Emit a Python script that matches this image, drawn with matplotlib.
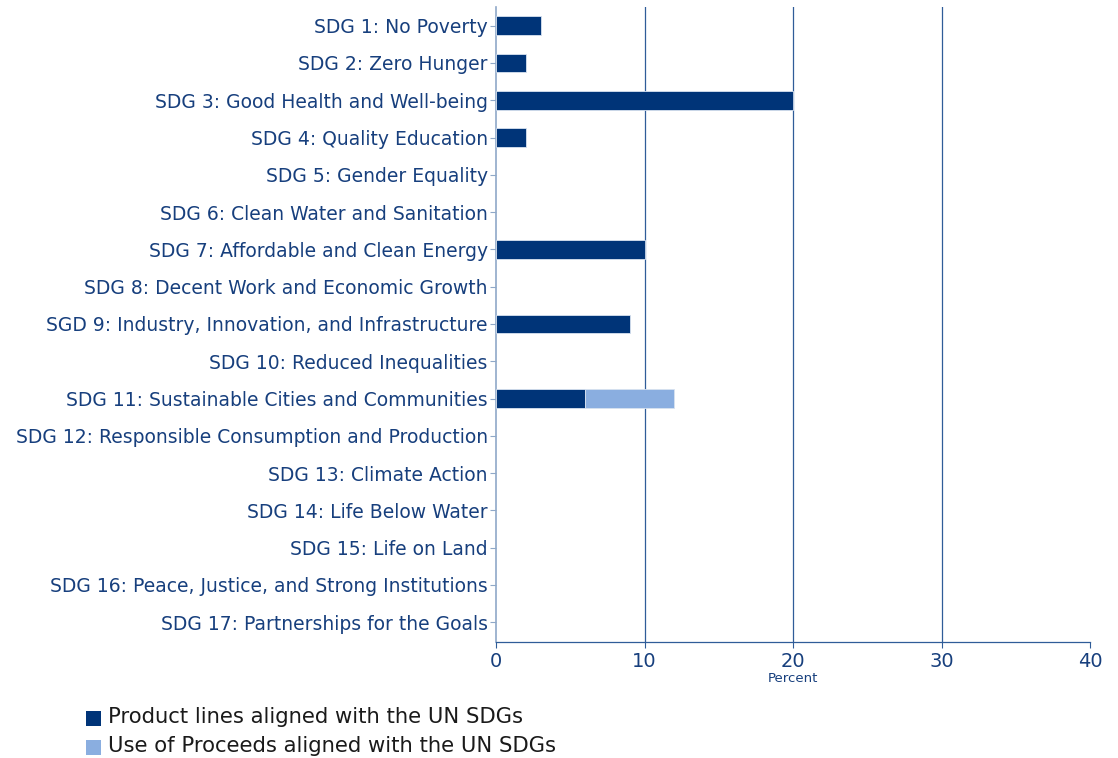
import matplotlib
matplotlib.use("Agg")
import matplotlib.pyplot as plt
from matplotlib.patches import Rectangle

categories = [
    "SDG 1: No Poverty",
    "SDG 2: Zero Hunger",
    "SDG 3: Good Health and Well-being",
    "SDG 4: Quality Education",
    "SDG 5: Gender Equality",
    "SDG 6: Clean Water and Sanitation",
    "SDG 7: Affordable and Clean Energy",
    "SDG 8: Decent Work and Economic Growth",
    "SGD 9: Industry, Innovation, and Infrastructure",
    "SDG 10: Reduced Inequalities",
    "SDG 11: Sustainable Cities and Communities",
    "SDG 12: Responsible Consumption and Production",
    "SDG 13: Climate Action",
    "SDG 14: Life Below Water",
    "SDG 15: Life on Land",
    "SDG 16: Peace, Justice, and Strong Institutions",
    "SDG 17: Partnerships for the Goals",
]
product_lines = [3, 2, 20, 2, 0, 0, 10, 0, 9, 0, 6, 0, 0, 0, 0, 0, 0]
use_of_proceeds = [0, 0, 0, 0, 0, 0, 0, 0, 0, 0, 6, 0, 0, 0, 0, 0, 0]
series_names = ["Product lines aligned with the UN SDGs",
                "Use of Proceeds aligned with the UN SDGs"]
x_ticks = [0, 10, 20, 30, 40]

DARK = "#003478"
LIGHT = "#8aaee0"
TEXT = "#173f7d"
GRID = "#2f5c98"

fig = plt.figure(figsize=(11.18, 7.58), dpi=100)
W, H = 1118, 758
ax = fig.add_axes([496 / W, 1 - 642 / H, (1090 - 496) / W, (642 - 7) / H])

y = list(range(len(categories)))
# draw only non-zero segments
for i in y:
    if product_lines[i] > 0:
        ax.barh(i, product_lines[i], height=0.5, color=DARK, edgecolor="#d8e2f0",
                linewidth=0.6, zorder=3)
    if use_of_proceeds[i] > 0:
        ax.barh(i, use_of_proceeds[i], left=product_lines[i], height=0.5, color=LIGHT,
                edgecolor="#d8e2f0", linewidth=0.6, zorder=3)

ax.set_ylim(len(categories) - 0.47, -0.5)
ax.set_xlim(0, 40)
ax.set_yticks(y)
ax.set_yticklabels(categories, fontsize=13.5, color=TEXT)
ax.set_xticks(x_ticks)
ax.set_xticklabels([str(t) for t in x_ticks], fontsize=14, color=TEXT)
ax.tick_params(axis="y", length=4, width=0.8, color="#8fa8c8", pad=2)
ax.tick_params(axis="x", length=4, width=0.8, color=GRID, pad=3)
ax.set_xlabel("Percent", fontsize=9.5, color=TEXT, labelpad=1)

for v in x_ticks[1:-1]:
    ax.axvline(v, color=GRID, linewidth=0.9, zorder=1)

for s in ["top", "right"]:
    ax.spines[s].set_visible(False)
ax.spines["left"].set_color("#8fa8c8")
ax.spines["left"].set_linewidth(1.2)
ax.spines["bottom"].set_color(GRID)
ax.spines["bottom"].set_linewidth(0.9)

# legend
for i, (name, col) in enumerate(zip(series_names, [DARK, LIGHT])):
    yc = 717 + i * 29
    fig.patches.append(Rectangle((86 / W, 1 - (yc + 9) / H), 15 / W, 15 / H,
                                 transform=fig.transFigure, facecolor=col, edgecolor="none"))
    fig.text(108 / W, 1 - yc / H, name, fontsize=15.2, color="#1a1a1a", va="center", ha="left")

fig.savefig("out.png", dpi=100)
